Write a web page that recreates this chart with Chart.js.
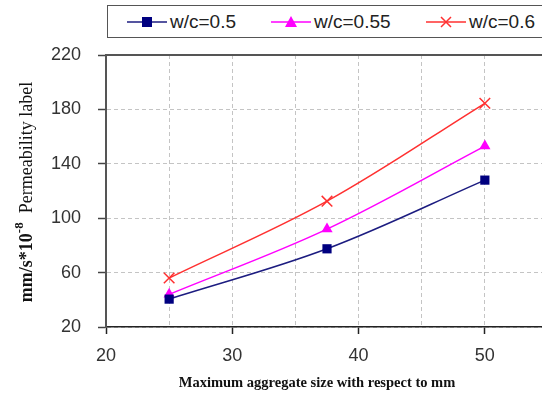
<!DOCTYPE html>
<html>
<head>
<meta charset="utf-8">
<script src="https://cdn.jsdelivr.net/npm/chart.js@4.4.0/dist/chart.umd.min.js"></script>
<style>
  html, body { margin: 0; padding: 0; background: #fff; overflow: hidden; }
  #wrap { position: relative; width: 559px; height: 396px; }
  #legend {
    position: absolute; left: 107px; top: 5px; width: 445px; height: 31px;
    border: 1.5px solid #555; background: #fff;
    font-family: "Liberation Sans", Arial, sans-serif; font-size: 19px; color: #222;
  }
  .item { position: absolute; top: 0; height: 31px; display: flex; align-items: center; white-space: nowrap; }
  .item svg { margin-right: 3px; }
</style>
</head>
<body>
<div id="wrap">
  <canvas id="chart" width="559" height="396"></canvas>
  <div id="legend"></div>
</div>
<script>
  // values
  var aggregateSizes = [25, 37.5, 50];
  var wc05 = [40.5, 77.5, 128];
  var wc055 = [44, 92, 153];
  var wc06 = [56, 112.5, 184.5];
  var seriesNames = ['w/c=0.5', 'w/c=0.55', 'w/c=0.6'];

  function toPoints(values) {
    return aggregateSizes.map(function (x, i) { return { x: x, y: values[i] }; });
  }

  var serif = '"Liberation Serif", "Times New Roman", serif';

  var titlesPlugin = {
    id: 'titles',
    afterDraw: function (chart) {
      var ctx = chart.ctx;
      var area = chart.chartArea;

      // top frame line
      ctx.save();
      ctx.strokeStyle = '#555';
      ctx.lineWidth = 2;
      ctx.beginPath();
      ctx.moveTo(area.left - 1, area.top);
      ctx.lineTo(area.right, area.top);
      ctx.stroke();
      ctx.restore();

      // y title, mixed fonts with a superscript
      var parts = [
        { t: 'mm/s*10', f: 'bold 18px ' + serif, dy: 0 },
        { t: '-8', f: 'bold 13px ' + serif, dy: -7 },
        { t: '  Permeability label', f: '18px ' + serif, dy: 0 }
      ];
      ctx.save();
      var total = 0;
      parts.forEach(function (p) { ctx.font = p.f; p.w = ctx.measureText(p.t).width; total += p.w; });
      ctx.translate(27, 192);
      ctx.rotate(-Math.PI / 2);
      ctx.fillStyle = '#111';
      ctx.textBaseline = 'middle';
      var x = -total / 2;
      parts.forEach(function (p) {
        ctx.font = p.f;
        ctx.fillText(p.t, x, p.dy);
        x += p.w;
      });
      ctx.restore();

      // x title
      ctx.save();
      ctx.font = 'bold 14.5px ' + serif;
      ctx.fillStyle = '#111';
      ctx.textAlign = 'center';
      ctx.textBaseline = 'middle';
      ctx.fillText('Maximum aggregate size with respect to mm', 317, 383);
      ctx.restore();
    }
  };

  var ctx = document.getElementById('chart').getContext('2d');
  new Chart(ctx, {
    type: 'line',
    data: {
      datasets: [
        {
          label: seriesNames[0],
          data: toPoints(wc05),
          borderColor: '#1c1c80',
          backgroundColor: '#000080',
          borderWidth: 1.5,
          pointStyle: 'rect',
          pointRadius: 6.5,
          pointBorderWidth: 0,
          tension: 0.35
        },
        {
          label: seriesNames[1],
          data: toPoints(wc055),
          borderColor: '#ff00ff',
          backgroundColor: '#ff00ff',
          borderWidth: 1.5,
          pointStyle: 'triangle',
          pointRadius: 6.5,
          pointBorderWidth: 0,
          tension: 0.35
        },
        {
          label: seriesNames[2],
          data: toPoints(wc06),
          borderColor: '#ff3030',
          backgroundColor: '#ff3030',
          borderWidth: 1.5,
          pointStyle: 'crossRot',
          pointRadius: 7.5,
          pointBorderWidth: 1.5,
          tension: 0.35
        }
      ]
    },
    options: {
      responsive: false,
      animation: false,
      events: [],
      layout: { padding: { left: 0, right: 1, top: 55, bottom: 0 } },
      plugins: {
        legend: { display: false },
        tooltip: { enabled: false }
      },
      scales: {
        x: {
          type: 'linear',
          min: 20,
          max: 55,
          afterFit: function (scale) { scale.height = 69; },
          ticks: {
            stepSize: 5,
            padding: 11,
            color: '#333',
            font: { family: '"Liberation Sans", Arial, sans-serif', size: 18 },
            maxRotation: 0,
            autoSkip: false,
            callback: function (v) { return v % 10 === 0 ? v : ''; }
          },
          grid: {
            color: '#c4c4c4',
            lineWidth: 1,
            tickLength: 7,
            tickWidth: 1.5,
            tickColor: function (c) { return c.tick && c.tick.value % 10 === 0 ? '#222' : 'rgba(0,0,0,0)'; }
          },
          border: { display: true, color: '#222', width: 1.5, dash: [4, 3] }
        },
        y: {
          min: 20,
          max: 220,
          afterFit: function (scale) { scale.width = 106; },
          ticks: {
            stepSize: 40,
            padding: 17,
            color: '#333',
            font: { family: '"Liberation Sans", Arial, sans-serif', size: 18 }
          },
          grid: {
            color: '#c4c4c4',
            lineWidth: 1,
            tickLength: 8,
            tickWidth: 1.5,
            tickColor: '#444'
          },
          border: { display: true, color: '#555', width: 2, dash: [4, 3] }
        }
      }
    },
    plugins: [titlesPlugin]
  });

  // legend: line sample with marker, then the name
  var markers = [
    '<rect x="15" y="1" width="10" height="10" fill="#000080"/>',
    '<polygon points="20,0 26,11 14,11" fill="#ff00ff"/>',
    '<path d="M15 1 L25 11 M25 1 L15 11" stroke="#ff3030" stroke-width="1.5" fill="none"/>'
  ];
  var lineColors = ['#1c1c80', '#ff00ff', '#ff3030'];
  var itemLefts = [19, 163, 318];
  var legend = document.getElementById('legend');
  seriesNames.forEach(function (name, i) {
    var item = document.createElement('div');
    item.className = 'item';
    item.style.left = itemLefts[i] + 'px';
    item.innerHTML = '<svg width="40" height="12"><line x1="0" y1="6" x2="40" y2="6" stroke="' +
      lineColors[i] + '" stroke-width="1.5"/>' + markers[i] + '</svg><span>' + name + '</span>';
    legend.appendChild(item);
  });
</script>
</body>
</html>
